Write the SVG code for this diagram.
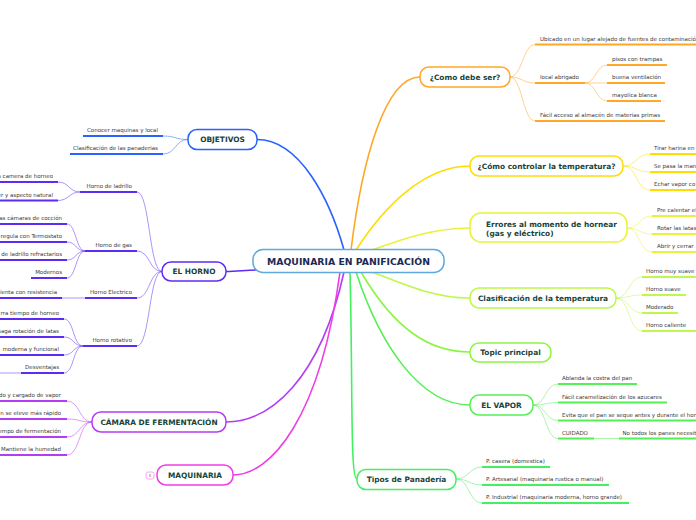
<svg xmlns="http://www.w3.org/2000/svg" width="696" height="520" viewBox="0 0 696 520">
<style>
.t{font-family:"DejaVu Sans",Verdana,sans-serif;font-size:5.5px;fill:#3a3a3a}
.e{text-anchor:end}
.n{font-family:"DejaVu Sans",Verdana,sans-serif;font-weight:bold;font-size:7.4px;fill:#17443a;text-anchor:middle}
.nl{text-anchor:start}
.c{font-size:9.3px;fill:#1b2a55}
rect.b{fill:#fff;stroke-width:1.5}
.u{stroke-width:2;fill:none}
.k{stroke-width:1;fill:none;opacity:.5}
.m{stroke-width:1.6;fill:none}
.or{stroke:#ffa726}.ye{stroke:#ffdd00}.er{stroke:#e8f23a}.cl{stroke:#bdf84a}.tp{stroke:#8cf542}.va{stroke:#55f055}.ti{stroke:#44f060}
.bl{stroke:#2962ff}.ho{stroke:#5c2cf5}.ca{stroke:#b43cf5}.ma{stroke:#f03ce6}
</style>
<rect width="696" height="520" fill="#fff"/>
<g id="connectors">
<path class="m bl" d="M344,250 C330,200 300,139.5 257,139.5"/>
<path class="m or" d="M351,250 C362,160 385,77 420,77"/>
<path class="m ye" d="M356,250 C385,205 425,166 470,166"/>
<path class="m er" d="M372,250 C405,238 435,228 470,228"/>
<path class="m cl" d="M372,272 C405,285 435,298 470,298"/>
<path class="m tp" d="M361,272 C395,330 430,352 470,352"/>
<path class="m va" d="M356,272 C380,345 420,405 470,405"/>
<path class="m ti" d="M350,272 C353,390 350,479 357,479"/>
<path class="m ho" d="M226,271.5 C238,271.5 245,270 256,270"/>
<path class="m ca" d="M344,272 C320,380 270,422 226,422"/>
<path class="m ma" d="M340,272 C320,420 270,475 233,475"/>
<!-- como debe ser -->
<path class="k or" d="M510,77 C522,77 523,44.5 535,44.5 M510,77 C522,77 523,83 535,83 M510,77 C522,77 523,121 535,121 M585,83 C596,83 596,65 607,65 M585,83 L607,83 M585,83 C596,83 596,101 607,101"/>
<path class="k ye" d="M623,166 C637,166 636,154 650,154 M623,166 C637,166 636,172 650,172 M623,166 C637,166 636,190 650,190"/>
<path class="k er" d="M627,228 C640,228 639,216 652,216 M627,228 C640,228 639,234 652,234 M627,228 C640,228 639,252 652,252"/>
<path class="k cl" d="M616,298 C629,298 629,277 642,277 M616,298 C629,298 629,295 642,295 M616,298 C629,298 629,313 642,313 M616,298 C629,298 629,331 642,331"/>
<path class="k va" d="M533,405 C546,405 545,384 558,384 M533,405 C546,405 545,402.5 558,402.5 M533,405 C546,405 545,420.5 558,420.5 M533,405 C546,405 545,438.5 558,438.5 M594,438.5 L619,438.5"/>
<path class="k ti" d="M456,479 C469,479 469,467 482,467 M456,479 C469,479 469,485 482,485 M456,479 C469,479 469,503 482,503"/>
<path class="k bl" d="M188,139.5 C175,139.5 176,136 163,136 M188,139.5 C175,139.5 176,154 163,154"/>
<path class="k ho" d="M162,271.5 C149,271.5 150,192 137,192 M162,271.5 C149,271.5 150,251 137,251 M162,271.5 C149,271.5 150,298 137,298 M162,271.5 C149,271.5 150,346 137,346 M80,192 C69,192 69,182 58,182 M80,192 C69,192 69,200.5 58,200.5 M85,251 C76,251 76,224 67,224 M85,251 C76,251 76,242 67,242 M85,251 C76,251 76,260 67,260 M85,251 C76,251 76,278 67,278 M85,298 L62,298 M83,346 C73,346 74,319 64,319 M83,346 C73,346 74,337 64,337 M83,346 C73,346 74,355 64,355 M83,346 C73,346 74,373 64,373 M0,373 L21,373"/>
<path class="k ca" d="M92,422 C79,422 80,401 67,401 M92,422 C79,422 80,419 67,419 M92,422 C79,422 80,437 67,437 M92,422 C79,422 80,455 67,455"/>
</g>
<g id="center">
<rect x="253" y="249.5" width="191" height="23" rx="10" fill="#fff" stroke="#5da9e0" stroke-width="1.5"/>
<text class="n c" x="348.5" y="264.5">MAQUINARIA EN PANIFICACIÓN</text>
</g>
<g id="como-debe-ser">
<rect class="b or" x="420" y="67" width="90" height="20" rx="9"/>
<text class="n" x="465" y="79.7">¿Como debe ser?</text>
<g class="u or"><path d="M535,44.5H696M535,83H585M607,65H667M607,83H665M607,101H661M535,121H665"/></g>
<text class="t" x="540" y="40.5">Ubicado en un lugar alejado de fuentes de contaminació</text>
<text class="t" x="540" y="79">local abrigado</text>
<text class="t" x="612" y="61">pisos con trampas</text>
<text class="t" x="612" y="79">buena ventilación</text>
<text class="t" x="612" y="97">mayolica blanca</text>
<text class="t" x="540" y="117">Fácil acceso al almacén de materias primas</text>
</g>
<g id="controlar">
<rect class="b ye" x="470" y="156" width="153" height="20" rx="9"/>
<text class="n" x="546.5" y="168.7">¿Cómo controlar la temperatura?</text>
<g class="u ye"><path d="M650,154H696M650,172H696M650,190H696"/></g>
<text class="t" x="654" y="150">Tirar harina en</text>
<text class="t" x="654" y="168">Se pasa la man</text>
<text class="t" x="654" y="186">Echar vapor co</text>
</g>
<g id="errores">
<rect class="b er" x="470" y="213" width="157" height="29" rx="11"/>
<text class="n nl" x="486" y="226.5">Errores al momento de hornear</text>
<text class="n nl" x="486" y="235.5">(gas y eléctrico)</text>
<g class="u er"><path d="M652,216H696M652,234H696M652,252H696"/></g>
<text class="t" x="657" y="212">Pre calentar el</text>
<text class="t" x="657" y="230">Rotar las latas</text>
<text class="t" x="657" y="248">Abrir y cerrar</text>
</g>
<g id="clasificacion">
<rect class="b cl" x="470" y="288" width="146" height="20" rx="9"/>
<text class="n" x="543" y="300.7">Clasificación de la temperatura</text>
<g class="u cl"><path d="M642,277H696M642,295H686M642,313H678M642,331H696"/></g>
<text class="t" x="646" y="273">Horno muy suave</text>
<text class="t" x="646" y="291">Horno suave</text>
<text class="t" x="646" y="309">Moderado</text>
<text class="t" x="646" y="327">Horno caliente</text>
</g>
<g id="topic-principal">
<rect class="b tp" x="470" y="343" width="81" height="19" rx="9"/>
<text class="n" x="510.5" y="355">Topic principal</text>
</g>
<g id="el-vapor">
<rect class="b va" x="470" y="395" width="63" height="20" rx="9"/>
<text class="n" x="501.5" y="407.7">EL VAPOR</text>
<g class="u va"><path d="M558,384H637M558,402.5H667M558,420.5H696M558,438.5H594M619,438.5H696"/></g>
<text class="t" x="562" y="380">Ablanda la costra del pan</text>
<text class="t" x="562" y="398.5">Fácil caramelización de los azucares</text>
<text class="t" x="562" y="416.5">Evita que el pan se seque antes y durante el hor</text>
<text class="t" x="562" y="434.5">CUIDADO</text>
<text class="t" x="622.5" y="434.5">No todos los panes necesit</text>
</g>
<g id="tipos">
<rect class="b ti" x="357" y="469.5" width="99" height="20" rx="9"/>
<text class="n" x="406.5" y="482.2">Tipos de Panadería</text>
<g class="u ti"><path d="M482,467H550M482,485H609M482,503H629"/></g>
<text class="t" x="486" y="463">P. casera (domestica)</text>
<text class="t" x="486" y="481">P. Artesanal (maquinaria rustica o manual)</text>
<text class="t" x="486" y="499">P. Industrial (maquinaria moderna, horno grande)</text>
</g>
<g id="objetivos">
<rect class="b bl" x="188" y="129.5" width="69" height="20" rx="9"/>
<text class="n" x="222.5" y="142.2">OBJETIVOS</text>
<g class="u bl"><path d="M83,136H163M70,154H163"/></g>
<text class="t e" x="158" y="132">Conocer maquinas y local</text>
<text class="t e" x="158" y="150">Clasificación de las panaderias</text>
</g>
<g id="el-horno">
<rect class="b ho" x="162" y="262" width="64" height="19" rx="9"/>
<text class="n" x="194" y="274.2">EL HORNO</text>
<g class="u ho"><path d="M80,192H137M85,251H137M85,298H137M83,346H137M0,182H58M0,200.5H58M0,224H67M0,242H67M0,260H67M31,278H67M0,298H62M0,319H64M0,337H64M0,355H64M21,373H64"/></g>
<text class="t e" x="132" y="188">Horno de ladrillo</text>
<text class="t e" x="132" y="247">Horno de gas</text>
<text class="t e" x="132" y="294">Horno Electrico</text>
<text class="t e" x="132" y="342">Horno rotativo</text>
<text class="t e" x="53" y="178">a camera de horneo</text>
<text class="t e" x="53" y="196.5">er y aspecto natural</text>
<text class="t e" x="62" y="220">as cámaras de cocción</text>
<text class="t e" x="62" y="238">regula con Termostato</text>
<text class="t e" x="62" y="256">de ladrillo refractarios</text>
<text class="t e" x="62" y="274">Modernos</text>
<text class="t e" x="57" y="294">ienta con resistencia</text>
<text class="t e" x="59" y="315">rra tiempo de horneo</text>
<text class="t e" x="59" y="333">saga rotación de latas</text>
<text class="t e" x="59" y="351">moderna y funcional</text>
<text class="t e" x="59" y="369">Desventajas</text>
</g>
<g id="camara">
<rect class="b ca" x="92" y="412" width="134" height="20" rx="9"/>
<text class="n" x="159" y="424.7">CÁMARA DE FERMENTACIÓN</text>
<g class="u ca"><path d="M0,401H67M0,419H67M0,437H67M0,455H67"/></g>
<text class="t e" x="61" y="397">do y cargado de vapor</text>
<text class="t e" x="61" y="415">n se eleve más rápido</text>
<text class="t e" x="61" y="433">iempo de fermentación</text>
<text class="t e" x="61" y="451">Mantiene la humedad</text>
</g>
<g id="maquinaria">
<rect class="b ma" x="157" y="465" width="76" height="20" rx="9"/>
<text class="n" x="195" y="477.7">MAQUINARIA</text>
<rect x="146" y="472" width="8" height="7" rx="2" fill="#fff" stroke="#f7a6f0" stroke-width="1"/>
<line x1="150" y1="474" x2="150" y2="477" stroke="#777" stroke-width="0.8"/>
</g>
</svg>
